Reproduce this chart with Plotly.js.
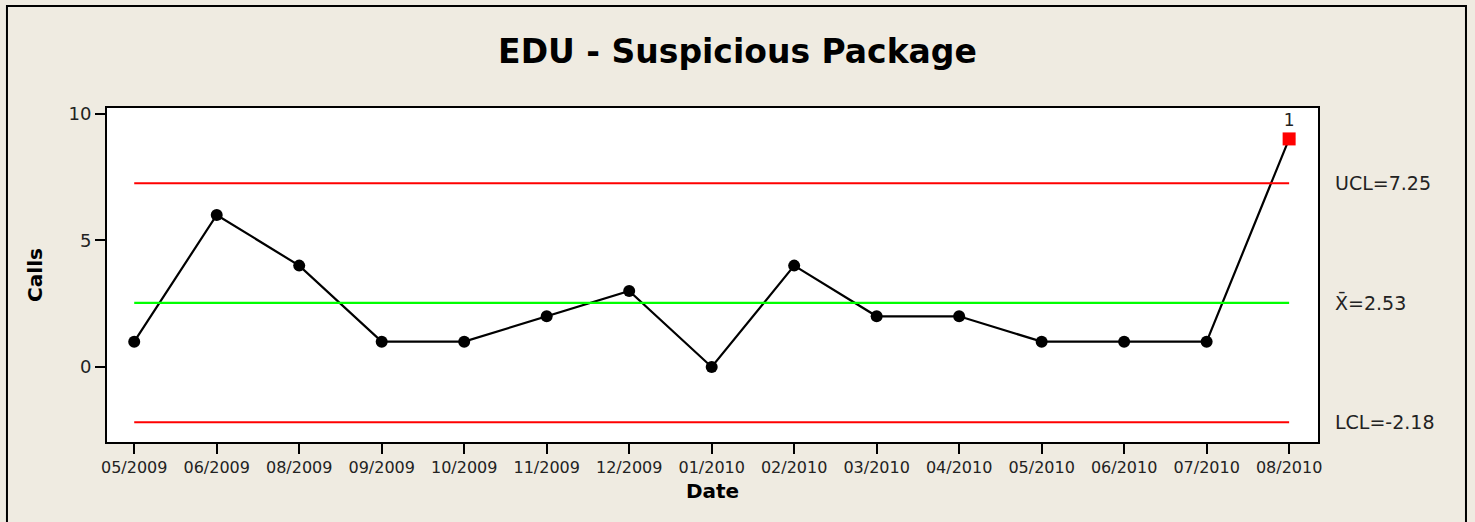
<!DOCTYPE html>
<html>
<head>
<meta charset="utf-8">
<script src="https://cdn.plot.ly/plotly-3.0.1.min.js"></script>
<style>html,body{margin:0;padding:0;background:#EFEBE1;}</style>
</head>
<body>
<div id="chart" style="width:1475px;height:522px;"></div>
<script>
const dates = ["05/2009","06/2009","08/2009","09/2009","10/2009","11/2009","12/2009","01/2010","02/2010","03/2010","04/2010","05/2010","06/2010","07/2010","08/2010"];
const calls = [1,6,4,1,1,2,3,0,4,2,2,1,1,1,9];
const ucl = 7.25;
const mean = 2.53;
const lcl = -2.18;
const outIdx = [14];
const outLabel = ["1"];

const font = "DejaVu Sans, Verdana, sans-serif";
const first = dates[0], last = dates[dates.length-1];

const traces = [
  {x:dates, y:calls, mode:"lines+markers", line:{color:"#000000", width:2.2},
   marker:{symbol:"circle", size:12, color:"#000000"}},
  {x:[first,last], y:[ucl,ucl], mode:"lines", line:{color:"#FF0000", width:2.2}, hoverinfo:"skip"},
  {x:[first,last], y:[mean,mean], mode:"lines", line:{color:"#00FF00", width:2.2}, hoverinfo:"skip"},
  {x:[first,last], y:[lcl,lcl], mode:"lines", line:{color:"#FF0000", width:2.2}, hoverinfo:"skip"},
  {x:outIdx.map(i=>dates[i]), y:outIdx.map(i=>calls[i]), mode:"markers+text",
   text:outLabel, textposition:"top center", textfont:{family:font, size:17, color:"#222"},
   marker:{symbol:"square", size:13, color:"#FF0000"}}
];

const layout = {
  width:1475, height:522,
  paper_bgcolor:"#EFEBE1", plot_bgcolor:"#FFFFFF",
  margin:{l:107, r:157, t:108, b:80},
  showlegend:false,
  title:{text:"<b>EDU - Suspicious Package</b>", font:{family:font, size:33, color:"#000"}, x:0.5, xanchor:"center", y:0.902, yanchor:"middle"},
  xaxis:{type:"category", categoryorder:"array", categoryarray:dates, range:[-0.33,14.35], showgrid:false, zeroline:false,
    showline:true, mirror:true, linecolor:"#000", linewidth:2,
    ticks:"outside", ticklen:10, tickwidth:2, tickcolor:"#000",
    tickfont:{family:font, size:16, color:"#222"},
    title:{text:"<b>Date</b>", font:{family:font, size:20, color:"#000"}, standoff:8}},
  yaxis:{range:[-2.96,10.22], tickvals:[0,5,10], showgrid:false, zeroline:false,
    showline:true, mirror:true, linecolor:"#000", linewidth:2,
    ticks:"outside", ticklen:10, tickwidth:2, tickcolor:"#000",
    tickfont:{family:font, size:18, color:"#222"},
    title:{text:"<b>Calls</b>", font:{family:font, size:20, color:"#000"}, standoff:20}},
  annotations:[
    {xref:"paper", yref:"y", x:1.012, y:ucl, xanchor:"left", yanchor:"middle", showarrow:false, text:"UCL=7.25", font:{family:font, size:19, color:"#222"}},
    {xref:"paper", yref:"y", x:1.012, y:mean, xanchor:"left", yanchor:"middle", showarrow:false, text:"X\u0304=2.53", font:{family:font, size:19, color:"#222"}},
    {xref:"paper", yref:"y", x:1.012, y:lcl, xanchor:"left", yanchor:"middle", showarrow:false, text:"LCL=-2.18", font:{family:font, size:19, color:"#222"}}
  ],
  shapes:[
    {type:"rect", xref:"paper", yref:"paper", x0:-0.0826, x1:1.1222, y0:-0.3, y1:1.3054, line:{color:"#000", width:2}, fillcolor:"rgba(0,0,0,0)", layer:"above"}
  ]
};

Plotly.newPlot("chart", traces, layout, {displayModeBar:false, staticPlot:true});
</script>
</body>
</html>
